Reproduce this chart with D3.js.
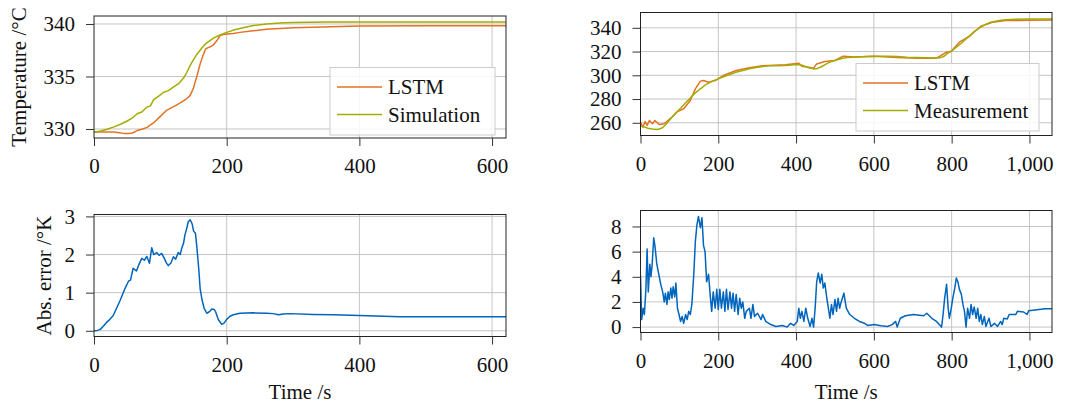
<!DOCTYPE html>
<html>
<head>
<meta charset="utf-8">
<script src="https://cdn.jsdelivr.net/npm/d3@7"></script>
<style>
  html, body { margin: 0; padding: 0; background: #fff; }
  svg { display: block; }
</style>
</head>
<body>
<script>
// ---------------- DATA ----------------
// Top-left: simulation case
const simTime = [0,10,20,30,40,50,58,65,72,80,85,90,97,105,112,120,128,135,140,145,150,155,160,165,170,180,190,200,212,225,240,260,280,300,350,400,500,621];
const simTemp = [329.68,329.8,329.98,330.2,330.45,330.76,331.05,331.45,331.62,332.1,332.2,332.8,333.1,333.5,333.65,334.0,334.35,334.85,335.4,336.05,336.6,337.1,337.5,337.9,338.2,338.65,338.95,339.2,339.45,339.65,339.85,340.0,340.1,340.15,340.18,340.19,340.2,340.2];
const lstmSimTime = [0,15,30,38,45,52,58,65,72,80,90,100,110,118,125,133,140,145,150,153,155,160,164,168,172,176,180,185,190,195,200,210,220,240,260,300,400,500,621];
const lstmSimTemp = [329.72,329.7,329.7,329.65,329.58,329.57,329.62,329.85,329.98,330.15,330.6,331.2,331.8,332.05,332.3,332.6,332.9,333.2,333.9,334.6,335.0,336.2,336.95,337.6,337.75,337.85,338.0,338.4,338.9,339.0,339.05,339.1,339.2,339.35,339.5,339.65,339.8,339.83,339.84];
const errSimTime = [0,5,9,14,19,24,29,34,39,43,47,52,55,59,62,64,68,72,76,79.6,83.6,87,90,94.6,98,102,106,109,112,116,119.6,123,127,130,132,135,137,140,142,145,148,150,153,155,158,160,163,166,170,174,177.5,181,183,187.5,192.5,196,200,205,210,220,240,260,270,278,285,295,330,361,400,461,520,621];
const errSimVal = [0,0.01,0.03,0.12,0.22,0.3,0.4,0.59,0.78,0.95,1.12,1.3,1.33,1.64,1.6,1.57,1.75,1.9,1.85,1.95,1.77,2.18,2.0,2.05,1.98,2.03,1.9,1.78,1.71,1.78,1.94,1.88,2.05,2.0,2.15,2.3,2.51,2.7,2.86,2.91,2.8,2.62,2.55,2.2,1.6,1.1,0.8,0.59,0.46,0.5,0.57,0.56,0.51,0.29,0.17,0.2,0.3,0.38,0.42,0.46,0.47,0.46,0.45,0.42,0.44,0.45,0.43,0.42,0.40,0.37,0.365,0.365];

// Top-right: measurement case
const measTime = [0,10,18.6,30,44,56.5,65,77.6,90,103,115,128,140,154,165,175,188,200,215,230,245,263,280,297,315,331,350,373,395,407,415,424,435,445,455,462,472,483,495,508,520,533,560,584,610,635,660,685,710,736,755,770,780,791,800,812,825,837,850,860,871,885,896,910,922,940,964,1000,1025,1058];
const measTemp = [257.2,256.5,255.5,254.8,254.4,255.8,258.5,263.4,268,272.3,276.5,280.8,285,288.6,291.5,293.4,295.5,297.0,299,300.7,302.5,304,305.5,306.6,307.5,308,308.1,308.2,308.8,309.1,308.5,307.4,306.2,305.4,305.8,306.8,308.5,310.5,312,313.3,314.4,315,315.5,315.8,316,316.1,315.8,315.3,315,314.7,314.6,314.7,316,318.9,320.5,323.7,327,330.7,334.5,337.5,339.7,342.5,344.2,345.3,346.1,346.8,347.2,347.4,347.5,347.5];
const lstmMeasTime = [0,6,12,17,23,31,37,48,61,78,95,111,128,141,154,162,175,192,213,246,280,314,373,407,415,432,445,453,474,500,521,550,601,660,711,761,787,799,820,846,875,905,939,1000,1058];
const lstmMeasTemp = [260.6,256.4,261.1,257.8,262,259.2,262,258.6,259.2,263.9,269.5,271.8,278.8,288.6,295.1,295.6,294.2,295.6,299.8,304,306.3,308,308.8,310.2,307.7,306.8,306.0,309.6,311.6,312.5,316.1,315.5,316.1,315,314.4,314.4,319.5,320.3,327.9,332.9,341.3,344.7,346.1,346.4,346.5];
const errMeasTime = [0,3,7,10,14,17,20,24,27,30,34,37,42,47,52,57,61,64,68,71,74,78,81,84,88,91,95,99,103,107,111,116,120,124,128,132,137,141,145,149,154,158,162,166,170,175,179,183,187,192,196,200,204,208,213,217,221,225,230,234,238,242,246,251,255,259,263,268,272,280,284,289,293,301,310,314,322,335,348,365,377,386,394,403,407,411,415,420,425,430,436,441,445,449,453,457,462,466,470,474,479,483,487,491,495,500,504,508,512,516,523,529,538,550,563,576,584,601,618,635,647,656,660,668,681,702,728,736,749,761,774,778,782,787,791,794,799,803,808,812,816,820,825,829,833,837,841,846,850,854,858,863,867,871,875,879,884,888,896,901,910,918,926,930,934,943,948,965,969,985,994,998,1025,1040,1058];
const errMeasVal = [4.1,0.6,1.5,1.0,3.1,6.2,2.8,5.0,4.0,5.0,7.1,6.5,5.0,4.2,3.4,2.8,2.0,2.7,1.8,2.8,2.2,3.1,2.3,3.2,2.4,3.5,1.5,1.0,0.45,0.85,0.3,1.0,0.6,1.25,1.0,1.8,4.2,6.8,8.1,8.8,7.9,8.7,6.5,6.0,3.6,4.2,2.6,1.25,2.8,1.5,3.0,1.4,3.0,1.5,2.8,1.25,3.0,1.4,2.8,1.5,2.7,1.25,2.6,1.0,2.3,1.5,2.0,0.7,1.25,1.5,0.7,1.8,0.85,1.1,0.6,1.0,0.45,0.2,0.05,0.13,0.0,0.3,0.13,0.45,1.5,0.7,1.25,0.45,1.5,0.7,0.05,0.7,0.0,1.5,3.6,4.3,3.5,4.2,3.1,3.5,2.3,1.5,0.7,1.8,1.0,2.2,1.25,2.3,1.5,2.0,2.7,1.5,1.0,0.7,0.45,0.3,0.13,0.2,0.1,0.05,0.2,0.45,0.0,0.7,0.9,1.0,0.9,1.1,0.7,0.45,0.0,1.0,2.3,3.4,1.5,0.7,1.5,2.3,3.1,3.9,3.6,3.0,2.6,1.8,1.25,0.0,1.5,0.7,1.8,1.0,1.6,0.7,1.5,0.45,1.0,0.2,0.85,0.05,0.7,0.05,0.3,0.05,0.45,0.2,0.7,0.65,1.0,1.0,1.25,1.2,1.0,1.3,1.4,1.45,1.45];

// Axis ticks
const xTicksSim = [0,200,400,600];
const yTicksSimTemp = [330,335,340];
const yTicksSimErr = [0,1,2,3];
const xTicksMeas = [0,200,400,600,800,1000];
const yTicksMeasTemp = [260,280,300,320,340];
const yTicksMeasErr = [0,2,4,6,8];

// Labels
const tempLabel = "Temperature /°C";
const errLabel = "Abs. error /°K";
const timeLabel = "Time /s";
const legendSim = ["LSTM", "Simulation"];
const legendMeas = ["LSTM", "Measurement"];

// ---------------- DRAW ----------------
const W = 1066, H = 405;
const FONT = "'Liberation Serif','Times New Roman',Times,serif";
const FS = 21;
const C_ORANGE = "#E37222", C_GREEN = "#A2AD00", C_BLUE = "#0065BD";

const svg = d3.select("body").append("svg")
  .attr("width", W).attr("height", H)
  .style("font-family", FONT);
svg.append("rect").attr("width", W).attr("height", H).attr("fill", "#fff");

let clipId = 0;
function panel(o) {
  const x = d3.scaleLinear().domain(o.xDomain).range([o.x0, o.x1]);
  const y = d3.scaleLinear().domain(o.yDomain).range([o.y1, o.y0]);
  const g = svg.append("g");

  // grid
  g.append("g").selectAll("line").data(o.xTicks.filter(v => v > o.xDomain[0])).join("line")
    .attr("x1", d => x(d)).attr("x2", d => x(d)).attr("y1", o.y0).attr("y2", o.y1)
    .attr("stroke", "#c4c4c4").attr("stroke-width", 1);
  g.append("g").selectAll("line").data(o.yTicks).join("line")
    .attr("x1", o.x0).attr("x2", o.x1).attr("y1", d => y(d)).attr("y2", d => y(d))
    .attr("stroke", "#c4c4c4").attr("stroke-width", 1);

  // clip
  const id = "clip" + (clipId++);
  svg.append("clipPath").attr("id", id).append("rect")
    .attr("x", o.x0).attr("y", o.y0).attr("width", o.x1 - o.x0).attr("height", o.y1 - o.y0);

  const line = d3.line().x(d => x(d[0])).y(d => y(d[1]));
  o.series.forEach(s => {
    const pts = s.t.map((t, i) => [t, s.v[i]]);
    g.append("path").attr("clip-path", `url(#${id})`)
      .attr("d", line(pts)).attr("fill", "none")
      .attr("stroke", s.color).attr("stroke-width", 1.5).attr("stroke-linejoin", "round");
  });

  // legend
  if (o.legend) {
    const L = o.legend;
    g.append("rect").attr("x", L.x).attr("y", L.y).attr("width", L.w).attr("height", L.h)
      .attr("fill", "#fff").attr("fill-opacity", 0.85).attr("stroke", "#cccccc").attr("stroke-width", 1);
    o.series.forEach((s, i) => {
      const ly = L.y + 19.5 + i * 27.5;
      g.append("line").attr("x1", L.x + 7).attr("x2", L.x + 52).attr("y1", ly).attr("y2", ly)
        .attr("stroke", s.color).attr("stroke-width", 1.5);
      g.append("text").attr("x", L.x + 58).attr("y", ly + 7).attr("font-size", FS)
        .attr("fill", "#111").text(L.labels[i]);
    });
  }

  // frame
  g.append("rect").attr("x", o.x0).attr("y", o.y0).attr("width", o.x1 - o.x0).attr("height", o.y1 - o.y0)
    .attr("fill", "none").attr("stroke", "#222").attr("stroke-width", 1);

  // axes
  const xa = g.append("g").attr("transform", `translate(0,${o.y1})`)
    .call(d3.axisBottom(x).tickValues(o.xTicks).tickSize(8).tickFormat(o.xFmt));
  xa.select(".domain").remove();
  xa.selectAll(".tick line").attr("stroke", "#333");
  xa.selectAll(".tick text").attr("y", 35).attr("dy", 0)
    .attr("font-size", FS).attr("font-family", FONT).attr("fill", "#111");

  const ya = g.append("g").attr("transform", `translate(${o.x0},0)`)
    .call(d3.axisLeft(y).tickValues(o.yTicks).tickSize(8).tickPadding(11).tickFormat(d3.format("d")));
  ya.select(".domain").remove();
  ya.selectAll(".tick line").attr("stroke", "#333");
  ya.selectAll(".tick text").attr("font-size", FS).attr("font-family", FONT).attr("fill", "#111");

  if (o.ylabel) {
    g.append("text").attr("transform", `translate(${o.ylabelX},${(o.y0 + o.y1) / 2}) rotate(-90)`)
      .attr("text-anchor", "middle").attr("dy", "0.35em").attr("font-size", FS).attr("fill", "#111")
      .text(o.ylabel);
  }
  if (o.xlabel) {
    g.append("text").attr("x", (o.x0 + o.x1) / 2).attr("y", 399)
      .attr("text-anchor", "middle").attr("font-size", FS).attr("fill", "#111").text(o.xlabel);
  }
}

const fmtPlain = d3.format("d");
const fmtComma = d3.format(",");

panel({
  x0: 94, x1: 506, y0: 16, y1: 138,
  xDomain: [0, 621], yDomain: [329.14, 340.76],
  xTicks: xTicksSim, yTicks: yTicksSimTemp, xFmt: fmtPlain,
  series: [
    { t: lstmSimTime, v: lstmSimTemp, color: C_ORANGE },
    { t: simTime, v: simTemp, color: C_GREEN }
  ],
  legend: { x: 330, y: 67.5, w: 165, h: 67.5, labels: legendSim },
  ylabel: tempLabel, ylabelX: 18.5
});

panel({
  x0: 640.5, x1: 1052, y0: 12.5, y1: 135.5,
  xDomain: [0, 1058], yDomain: [249.3, 352.9],
  xTicks: xTicksMeas, yTicks: yTicksMeasTemp, xFmt: fmtComma,
  series: [
    { t: lstmMeasTime, v: lstmMeasTemp, color: C_ORANGE },
    { t: measTime, v: measTemp, color: C_GREEN }
  ],
  legend: { x: 856, y: 63.5, w: 183, h: 67.5, labels: legendMeas }
});

panel({
  x0: 94, x1: 506, y0: 214.5, y1: 336.5,
  xDomain: [0, 621], yDomain: [-0.15, 3.05],
  xTicks: xTicksSim, yTicks: yTicksSimErr, xFmt: fmtPlain,
  series: [{ t: errSimTime, v: errSimVal, color: C_BLUE }],
  ylabel: errLabel, ylabelX: 43.5, xlabel: timeLabel
});

panel({
  x0: 640.5, x1: 1052, y0: 210.5, y1: 332.5,
  xDomain: [0, 1058], yDomain: [-0.43, 9.27],
  xTicks: xTicksMeas, yTicks: yTicksMeasErr, xFmt: fmtComma,
  series: [{ t: errMeasTime, v: errMeasVal, color: C_BLUE }],
  xlabel: timeLabel
});
</script>
</body>
</html>
